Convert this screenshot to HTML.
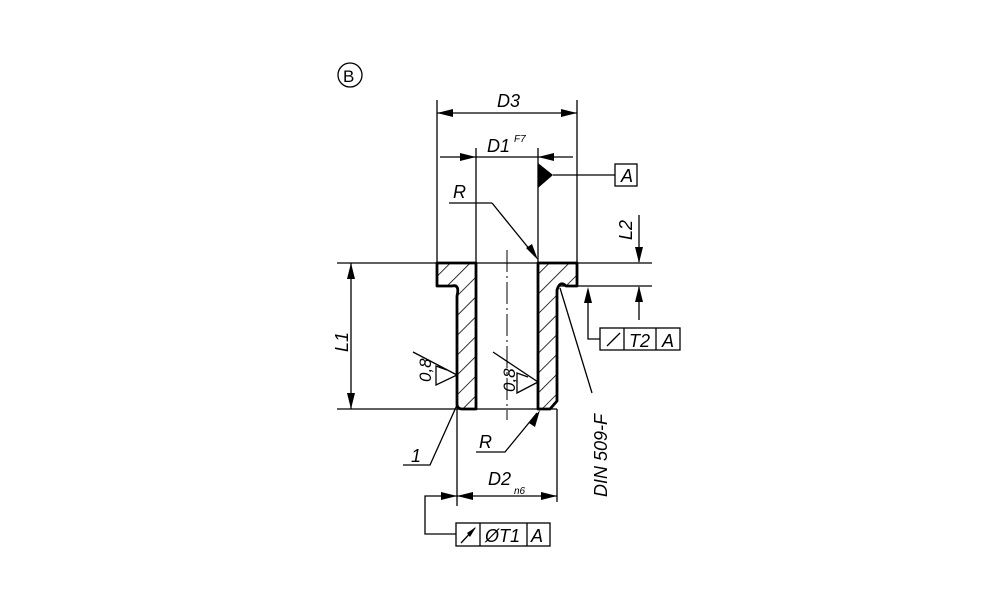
<!DOCTYPE html>
<html><head><style>body{margin:0;background:#fff}svg{display:block}text{font-family:"Liberation Sans",sans-serif;font-style:italic;fill:#000}</style></head><body>
<svg width="1000" height="611" viewBox="0 0 1000 611">
<defs>
<pattern id="h" width="14" height="14" patternUnits="userSpaceOnUse" patternTransform="rotate(45)"><rect width="14" height="14" fill="#fff"/><line x1="0" y1="0" x2="0" y2="14" stroke="#000" stroke-width="1.6"/></pattern>
</defs>
<g stroke="#000" fill="none" stroke-width="1.3">
<circle cx="350" cy="75" r="12"/>
<line x1="437" y1="100" x2="437" y2="263"/><line x1="577" y1="100" x2="577" y2="263"/>
<line x1="437" y1="113" x2="577" y2="113"/>
<line x1="476" y1="148" x2="476" y2="263"/><line x1="538" y1="148" x2="538" y2="263"/>
<line x1="440" y1="157" x2="573" y2="157"/>
<line x1="553" y1="175" x2="615" y2="175"/><rect x="615" y="164" width="22" height="22"/>
<line x1="449" y1="203" x2="492" y2="203"/><line x1="492" y1="203" x2="535" y2="256"/>
<line x1="577" y1="263" x2="652" y2="263"/><line x1="560" y1="286" x2="652" y2="286"/>
<line x1="639" y1="215" x2="639" y2="262"/><line x1="639" y1="287" x2="639" y2="320"/>
<polyline points="588,290 588,339 600,339"/>
<rect x="600" y="328" width="80" height="22"/><line x1="624" y1="328" x2="624" y2="350"/><line x1="656" y1="328" x2="656" y2="350"/>
<line x1="607" y1="346" x2="620" y2="333"/>
<line x1="560" y1="288" x2="592" y2="393"/>
<line x1="337" y1="263" x2="577" y2="263"/><line x1="337" y1="409" x2="557" y2="409"/>
<line x1="351" y1="263" x2="351" y2="409"/>
<line x1="507" y1="250" x2="507" y2="420" stroke-dasharray="22,4,2,4" stroke-width="1"/>
<polyline points="457,405 430,465 403,465"/>
<polyline points="476,452 505,452 537,413"/>
<line x1="457" y1="409" x2="457" y2="506"/><line x1="557" y1="409" x2="557" y2="502"/>
<line x1="437" y1="496" x2="557" y2="496"/>
<polyline points="437,496 425,496 425,534 456,534"/>
<rect x="456" y="523" width="94" height="23"/><line x1="480" y1="523" x2="480" y2="546"/><line x1="527" y1="523" x2="527" y2="546"/>
<line x1="461" y1="543" x2="475" y2="528"/>
<polyline points="413,352 457,375 436,385 436,366 447,370"/>
<polyline points="493,352 538,382 517,393 517,373 528,377"/>
</g>
<g fill="url(#h)" stroke="#000" stroke-width="2.8" stroke-linejoin="round">
<path d="M437,263 H476 V409 H462 Q457,409 457,404 V296 Q460,284 452,286 H437 Z"/>
<path d="M538,263 H577 V286 H566 Q560,280 557,290 V401 L550,409 H538 Z"/>
</g>
<g fill="#000">
<polygon points="437,113 453,109 453,117"/><polygon points="577,113 561,109 561,117"/>
<polygon points="476,157 460,153 460,161"/><polygon points="538,157 554,153 554,161"/>
<polygon points="538,163 553,175 538,188"/>
<polygon points="538,260 526,248 532,244"/>
<polygon points="639,263 635,247 643,247"/><polygon points="639,286 635,302 643,302"/>
<polygon points="588,287 584,303 592,303"/>
<polygon points="351,263 347,279 355,279"/><polygon points="351,409 347,393 355,393"/>
<polygon points="540,410 529,423 535,427"/>
<polygon points="457,496 441,492 441,500"/><polygon points="457,496 473,492 473,500"/><polygon points="557,496 541,492 541,500"/>
<polygon points="476,527 470,537 467,533"/>
</g>
<g font-size="18">
<text x="343" y="82" style="font-style:normal" font-size="17">B</text>
<text x="497" y="107">D3</text>
<text x="487" y="152">D1</text><text x="514" y="142" font-size="10">F7</text>
<text x="621" y="182">A</text>
<text x="453" y="198">R</text>
<text x="632" y="240" transform="rotate(-90 632 240)">L2</text>
<text x="629" y="347">T2</text><text x="662" y="347">A</text>
<text x="607" y="497" transform="rotate(-90 607 497)">DIN 509-F</text>
<text x="348" y="352" transform="rotate(-90 348 352)">L1</text>
<text x="431" y="382" transform="rotate(-90 431 382)" font-size="17">0,8</text>
<text x="515" y="392" transform="rotate(-90 515 392)" font-size="17">0,8</text>
<text x="411" y="462">1</text>
<text x="479" y="448">R</text>
<text x="488" y="485">D2</text><text x="514" y="494" font-size="10">n6</text>
<text x="485" y="542">ØT1</text><text x="531" y="542">A</text>
</g>
</svg>
</body></html>
